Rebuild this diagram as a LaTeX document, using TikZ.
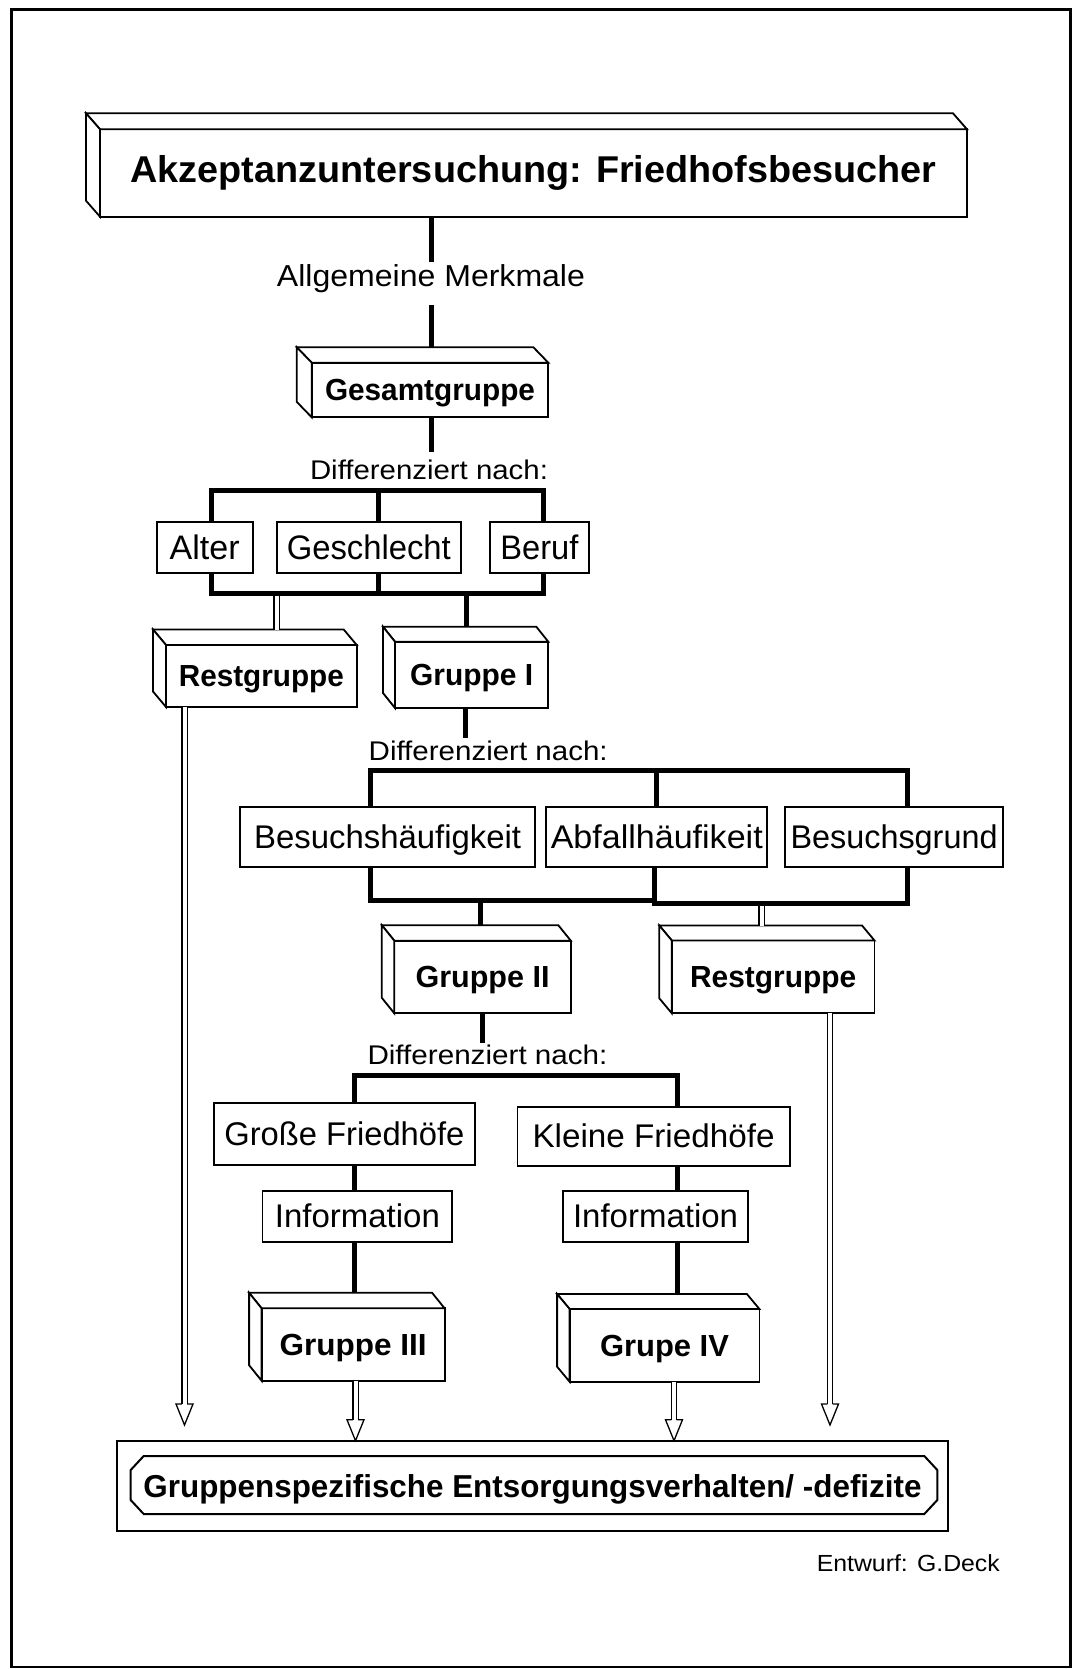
\documentclass[tikz,border=0pt]{standalone}
\usepackage{fontspec}
\setmainfont{Liberation Sans}
\usetikzlibrary{calc}
\newcommand\tx[3]{{\fontsize{#1pt}{#1pt}\selectfont\resizebox{#2pt}{\height}{#3}}}
\newcommand\tb[3]{{\fontsize{#1pt}{#1pt}\selectfont\bfseries\resizebox{#2pt}{\height}{#3}}}
\begin{document}
\begin{tikzpicture}[x=1pt,y=-1pt,
  face/.style={draw, line width=1.8pt, fill=white, inner sep=0pt, outer sep=0pt},
  boldbox/.style={face, text height=21.8pt, text depth=0pt},
  lbox/.style={face, text height=23.5pt, text depth=0pt},
  txt/.style={inner sep=0pt, outer sep=0pt, text depth=0pt},
  conn/.style={line width=5pt, line join=miter},
  hol/.style={double, double distance=4pt, line width=1.3pt},
  sidef/.style={line width=1.8pt, fill=white, line join=miter},
  headl/.style={line width=1.3pt, line join=miter}
]
\useasboundingbox (0,0) rectangle (1073,1669);
\draw[line width=2.5pt] (11.7,9.3) rectangle (1070.5,1667);

% ---------- nodes ----------
\node[face, text height=20pt, text depth=0pt, minimum width=867pt, minimum height=87.4pt] (title) at (533.5,173)
  {\tb{37.3}{806}{Akzeptanzuntersuchung: Friedhofsbesucher}};
\node[txt, text height=21.7pt] (lblA) at (431,275.7) {\tx{30.3}{308}{Allgemeine Merkmale}};
\node[boldbox, minimum width=236.6pt, minimum height=54.6pt] (gesamt) at (430,390) {\tb{30.5}{210}{Gesamtgruppe}};
\node[txt, text height=19.3pt] (d1) at (429,469.7) {\tx{27}{238}{Differenziert nach:}};

\node[lbox, text height=24.3pt, minimum width=96pt, minimum height=51.6pt] (alter) at (204.7,547.5) {\tx{34}{70}{Alter}};
\node[lbox, text height=24.3pt, minimum width=184.3pt, minimum height=51.6pt] (geschl) at (368.85,547.5) {\tx{34}{164}{Geschlecht}};
\node[lbox, text height=24.3pt, minimum width=98.7pt, minimum height=51.6pt] (beruf) at (539.35,547.5) {\tx{34}{78}{Beruf}};

\node[boldbox, minimum width=190.7pt, minimum height=62pt] (rest1) at (261.35,676) {\tb{30.5}{165}{Restgruppe}};
\node[boldbox, minimum width=153.3pt, minimum height=66.3pt] (gI) at (471.65,674.85) {\tb{30.5}{123}{Gruppe I}};

\node[txt, text height=19.3pt] (d2) at (488.2,750.8) {\tx{27}{239}{Differenziert nach:}};
\node[lbox, minimum width=294.9pt, minimum height=59.4pt] (besh) at (387.65,837) {\tx{32.8}{267}{Besuchshäufigkeit}};
\node[lbox, minimum width=220.9pt, minimum height=59.4pt] (abfall) at (656.75,837) {\tx{32.8}{212}{Abfallhäufikeit}};
\node[lbox, minimum width=217.9pt, minimum height=59.4pt] (besg) at (894.05,837) {\tx{32.8}{207}{Besuchsgrund}};

\node[boldbox, minimum width=176.5pt, minimum height=72.6pt] (gII) at (482.55,977) {\tb{30.5}{134}{Gruppe II}};
\node[boldbox, minimum width=202.7pt, minimum height=72.8pt] (rest2) at (773.15,976.9) {\tb{30.5}{166}{Restgruppe}};

\node[txt, text height=19.3pt] (d3) at (487.5,1055) {\tx{27}{240}{Differenziert nach:}};
\node[lbox, minimum width=261.2pt, minimum height=62.3pt] (gross) at (344.4,1133.85) {\tx{32.8}{240}{Große Friedhöfe}};
\node[lbox, minimum width=272.3pt, minimum height=59pt] (klein) at (653.55,1136.2) {\tx{32.8}{242}{Kleine Friedhöfe}};
\node[lbox, minimum width=189.7pt, minimum height=51pt] (infoL) at (357.35,1216.2) {\tx{32.8}{165}{Information}};
\node[lbox, minimum width=185.3pt, minimum height=51pt] (infoR) at (655.55,1216.2) {\tx{32.8}{165}{Information}};

\node[boldbox, minimum width=183pt, minimum height=72.4pt] (gIII) at (353.1,1344.5) {\tb{30.5}{147}{Gruppe III}};
\node[boldbox, minimum width=189.8pt, minimum height=72.7pt] (gIV) at (664.5,1345.35) {\tb{30.5}{129}{Grupe IV}};

\node[draw, line width=2.3pt, inner sep=0pt, outer sep=0pt, text height=22.7pt, text depth=0pt,
      minimum width=831.6pt, minimum height=90pt] (res) at (532.5,1485.7)
  {\tb{31.7}{778}{Gruppenspezifische Entsorgungsverhalten/ -defizite}};
\draw[line width=2pt, line join=miter] (143.7,1456) -- (924.3,1456) -- (937.3,1470) -- (937.3,1500)
  -- (924.3,1514) -- (143.7,1514) -- (130.7,1500) -- (130.7,1470) -- cycle;

\node[txt, text height=16.7pt] (entw) at (908.3,1563.3) {\tx{23.3}{183}{Entwurf: G.Deck}};

% ---------- 3D faces ----------
\foreach \n/\dx/\dy in {title/14/16, gesamt/15/15.5, rest1/13/15.5, gI/12/15, gII/12.5/15.5, rest2/12.5/15, gIII/12.5/15.5, gIV/12.5/15}{
  \draw[sidef] (\n.north west) -- ++(-\dx,-\dy) -- ($(\n.north east)+(-\dx,-\dy)$) -- (\n.north east) -- cycle;
  \draw[sidef] (\n.north west) -- ++(-\dx,-\dy) -- ($(\n.south west)+(-\dx,-\dy)$) -- (\n.south west) -- cycle;
}

% ---------- connectors: top ----------
\draw[conn] (title.south -| lblA) -- ($(lblA.north)+(0,-3)$);
\draw[conn] ($(lblA.south)+(0,18.5)$) -- ($(lblA.south |- gesamt.north)+(0,-15.5)$);
\draw[conn] (gesamt.south -| lblA) -- ($(lblA |- d1.north)+(0,-8.3)$);

% bracket 1
\coordinate (b1tl) at (211.7,490);
\coordinate (b1tm) at (378.3,490);
\coordinate (b1tr) at (543.3,490);
\coordinate (b1bl) at (211.7,593.3);
\coordinate (b1br) at (543.3,593.3);
\draw[conn] (alter.north -| b1tl) -- (b1tl) -- (b1tr) -- (beruf.north -| b1tr);
\draw[conn] (b1tm) -- (geschl.north -| b1tm);
\draw[conn] (alter.south -| b1bl) -- (b1bl) -- (b1br) -- (beruf.south -| b1br);
\draw[conn] (geschl.south -| b1tm) -- (b1tm |- b1bl);
\coordinate (b1x) at (276.7,596);
\coordinate (b1y) at (466.7,593.3);
\draw[hol] (b1x) -- ($(b1x |- rest1.north)+(0,-15.5)$);
\draw[conn] (b1y) -- ($(b1y |- gI.north)+(0,-15)$);

% bracket 2
\coordinate (g1x) at (465.7,0);
\draw[conn] (gI.south -| g1x) -- ($(g1x |- d2.north)+(0,-3)$);
\coordinate (b2tl) at (370.3,770);
\coordinate (b2tm) at (656,770);
\coordinate (b2tr) at (907,770);
\coordinate (b2bl) at (370.3,900);
\coordinate (b2bm) at (654,900);
\coordinate (b2bm2) at (654,903.3);
\coordinate (b2br) at (907,903.3);
\draw[conn] (besh.north -| b2tl) -- (b2tl) -- (b2tr) -- (besg.north -| b2tr);
\draw[conn] (b2tm) -- (abfall.north -| b2tm);
\draw[conn] (besh.south -| b2bl) -- (b2bl) -- (b2bm);
\draw[conn] (abfall.south -| b2bm) -- (b2bm2) -- (b2br) -- (besg.south -| b2br);
\coordinate (b2x) at (480,900);
\coordinate (b2y) at (761.7,906);
\draw[conn] (b2x) -- ($(b2x |- gII.north)+(0,-15.5)$);
\draw[hol] (b2y) -- ($(b2y |- rest2.north)+(0,-15)$);

% bracket 3
\coordinate (g2x) at (482.6,0);
\draw[conn] (gII.south -| g2x) -- ($(g2x |- d3.north)+(0,-2)$);
\coordinate (b3l) at (354.5,1075);
\coordinate (b3r) at (677,1075);
\draw[conn] (gross.north -| b3l) -- (b3l) -- (b3r) -- (klein.north -| b3r);
\draw[conn] (gross.south -| b3l) -- (infoL.north -| b3l);
\draw[conn] (infoL.south -| b3l) -- ($(b3l |- gIII.north)+(0,-15.5)$);
\draw[conn] (klein.south -| b3r) -- (infoR.north -| b3r);
\draw[conn] (infoR.south -| b3r) -- ($(b3r |- gIV.north)+(0,-15)$);

% hollow arrows to result
\coordinate (tipA) at (184.5,1425);
\coordinate (tipB) at (355.5,1440.7);
\coordinate (tipC) at (674,1440.7);
\coordinate (tipD) at (830,1425);
\foreach \s/\t in {rest1/tipA, gIII/tipB, gIV/tipC, rest2/tipD}{
  \draw[hol] (\s.south -| \t) -- ($(\t)+(0,-21)$);
  \draw[headl] ($(\t)+(-2.65,-21)$) -- ($(\t)+(-8.5,-21)$) -- (\t) -- ($(\t)+(8.5,-21)$) -- ($(\t)+(2.65,-21)$);
}
\end{tikzpicture}
\end{document}
